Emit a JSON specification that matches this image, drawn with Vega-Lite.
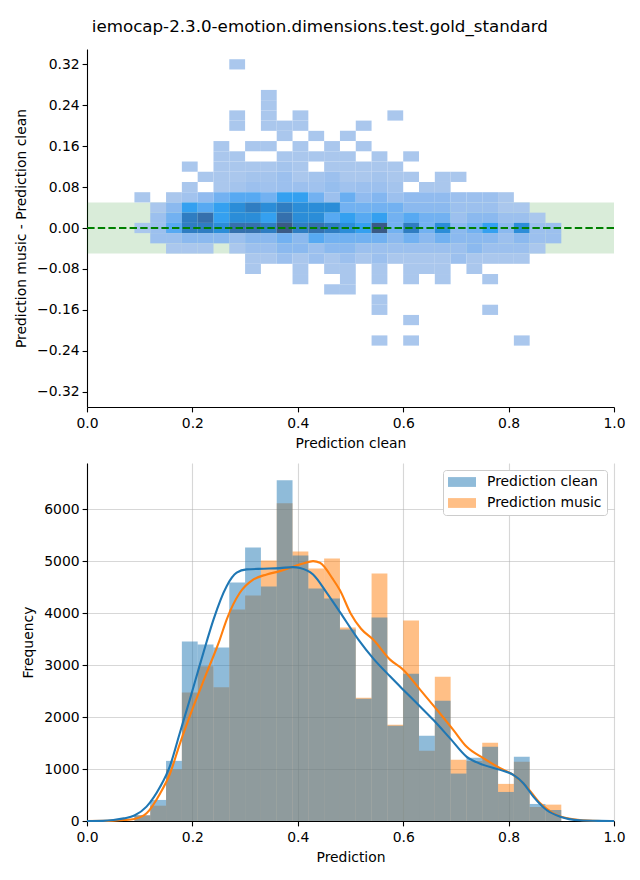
{
"$schema": "https://vega.github.io/schema/vega-lite/v6.json",
"background": "white",
"padding": {"left": 14, "top": 19, "right": 14, "bottom": 5},
"autosize": {"type": "pad"},
"spacing": 12,
"title": {"text": "iemocap-2.3.0-emotion.dimensions.test.gold_standard", "fontSize": 16.7, "font": "DejaVu Sans", "fontWeight": "normal", "color": "black", "anchor": "middle", "offset": 13},
"config": {
  "font": "DejaVu Sans",
  "view": {"stroke": null},
  "axis": {"labelFontSize": 13.9, "titleFontSize": 13.9, "labelColor": "black", "titleColor": "black", "titleFontWeight": "normal", "domainColor": "black", "domainWidth": 1.1, "tickColor": "black", "tickWidth": 1.1, "tickSize": 4.9, "labelPadding": 3, "titlePadding": 6, "gridColor": "#b0b0b0", "gridOpacity": 0.5, "gridWidth": 1.1, "zindex": 1, "labelFlush": false, "labelOverlap": false},
  "axisX": {"labelPadding": 5},
  "legend": {"orient": "top-right", "offset": 7, "labelFontSize": 13.9, "labelColor": "black", "symbolType": "M-2,-0.7L2,-0.7L2,0.7L-2,0.7Z", "symbolSize": 196, "symbolOpacity": 0.5, "symbolStrokeWidth": 0, "symbolOffset": 7, "labelOffset": 18, "fillColor": "white", "strokeColor": "#cccccc", "cornerRadius": 3, "padding": 5, "rowPadding": 7}
},
"datasets": {
  "cells": [
    {"x0":0.27,"x1":0.30,"y0":0.31,"y1":0.33,"n":30},
    {"x0":0.33,"x1":0.36,"y0":0.25,"y1":0.27,"n":30},
    {"x0":0.33,"x1":0.36,"y0":0.23,"y1":0.25,"n":30},
    {"x0":0.27,"x1":0.30,"y0":0.21,"y1":0.23,"n":30},
    {"x0":0.33,"x1":0.36,"y0":0.21,"y1":0.23,"n":30},
    {"x0":0.39,"x1":0.42,"y0":0.21,"y1":0.23,"n":30},
    {"x0":0.57,"x1":0.60,"y0":0.21,"y1":0.23,"n":30},
    {"x0":0.27,"x1":0.30,"y0":0.19,"y1":0.21,"n":30},
    {"x0":0.33,"x1":0.36,"y0":0.19,"y1":0.21,"n":30},
    {"x0":0.36,"x1":0.39,"y0":0.19,"y1":0.21,"n":30},
    {"x0":0.39,"x1":0.42,"y0":0.19,"y1":0.21,"n":30},
    {"x0":0.51,"x1":0.54,"y0":0.19,"y1":0.21,"n":30},
    {"x0":0.36,"x1":0.39,"y0":0.17,"y1":0.19,"n":30},
    {"x0":0.42,"x1":0.45,"y0":0.17,"y1":0.19,"n":30},
    {"x0":0.48,"x1":0.51,"y0":0.17,"y1":0.19,"n":30},
    {"x0":0.24,"x1":0.27,"y0":0.15,"y1":0.17,"n":30},
    {"x0":0.30,"x1":0.33,"y0":0.15,"y1":0.17,"n":30},
    {"x0":0.33,"x1":0.36,"y0":0.15,"y1":0.17,"n":30},
    {"x0":0.39,"x1":0.42,"y0":0.15,"y1":0.17,"n":30},
    {"x0":0.45,"x1":0.48,"y0":0.15,"y1":0.17,"n":30},
    {"x0":0.51,"x1":0.54,"y0":0.15,"y1":0.17,"n":30},
    {"x0":0.24,"x1":0.27,"y0":0.13,"y1":0.15,"n":30},
    {"x0":0.27,"x1":0.30,"y0":0.13,"y1":0.15,"n":30},
    {"x0":0.36,"x1":0.39,"y0":0.13,"y1":0.15,"n":30},
    {"x0":0.39,"x1":0.42,"y0":0.13,"y1":0.15,"n":30},
    {"x0":0.42,"x1":0.45,"y0":0.13,"y1":0.15,"n":30},
    {"x0":0.45,"x1":0.48,"y0":0.13,"y1":0.15,"n":30},
    {"x0":0.48,"x1":0.51,"y0":0.13,"y1":0.15,"n":30},
    {"x0":0.54,"x1":0.57,"y0":0.13,"y1":0.15,"n":30},
    {"x0":0.60,"x1":0.63,"y0":0.13,"y1":0.15,"n":30},
    {"x0":0.18,"x1":0.21,"y0":0.11,"y1":0.13,"n":30},
    {"x0":0.24,"x1":0.27,"y0":0.11,"y1":0.13,"n":30},
    {"x0":0.27,"x1":0.30,"y0":0.11,"y1":0.13,"n":30},
    {"x0":0.30,"x1":0.33,"y0":0.11,"y1":0.13,"n":30},
    {"x0":0.33,"x1":0.36,"y0":0.11,"y1":0.13,"n":30},
    {"x0":0.36,"x1":0.39,"y0":0.11,"y1":0.13,"n":80},
    {"x0":0.39,"x1":0.42,"y0":0.11,"y1":0.13,"n":30},
    {"x0":0.45,"x1":0.48,"y0":0.11,"y1":0.13,"n":30},
    {"x0":0.48,"x1":0.51,"y0":0.11,"y1":0.13,"n":30},
    {"x0":0.51,"x1":0.54,"y0":0.11,"y1":0.13,"n":30},
    {"x0":0.54,"x1":0.57,"y0":0.11,"y1":0.13,"n":30},
    {"x0":0.57,"x1":0.60,"y0":0.11,"y1":0.13,"n":30},
    {"x0":0.21,"x1":0.24,"y0":0.09,"y1":0.11,"n":30},
    {"x0":0.24,"x1":0.27,"y0":0.09,"y1":0.11,"n":30},
    {"x0":0.27,"x1":0.30,"y0":0.09,"y1":0.11,"n":30},
    {"x0":0.30,"x1":0.33,"y0":0.09,"y1":0.11,"n":80},
    {"x0":0.33,"x1":0.36,"y0":0.09,"y1":0.11,"n":80},
    {"x0":0.36,"x1":0.39,"y0":0.09,"y1":0.11,"n":150},
    {"x0":0.39,"x1":0.42,"y0":0.09,"y1":0.11,"n":30},
    {"x0":0.42,"x1":0.45,"y0":0.09,"y1":0.11,"n":80},
    {"x0":0.45,"x1":0.48,"y0":0.09,"y1":0.11,"n":150},
    {"x0":0.48,"x1":0.51,"y0":0.09,"y1":0.11,"n":30},
    {"x0":0.51,"x1":0.54,"y0":0.09,"y1":0.11,"n":30},
    {"x0":0.54,"x1":0.57,"y0":0.09,"y1":0.11,"n":80},
    {"x0":0.57,"x1":0.60,"y0":0.09,"y1":0.11,"n":30},
    {"x0":0.60,"x1":0.63,"y0":0.09,"y1":0.11,"n":30},
    {"x0":0.66,"x1":0.69,"y0":0.09,"y1":0.11,"n":30},
    {"x0":0.69,"x1":0.72,"y0":0.09,"y1":0.11,"n":30},
    {"x0":0.18,"x1":0.21,"y0":0.07,"y1":0.09,"n":30},
    {"x0":0.24,"x1":0.27,"y0":0.07,"y1":0.09,"n":30},
    {"x0":0.27,"x1":0.30,"y0":0.07,"y1":0.09,"n":80},
    {"x0":0.30,"x1":0.33,"y0":0.07,"y1":0.09,"n":150},
    {"x0":0.33,"x1":0.36,"y0":0.07,"y1":0.09,"n":120},
    {"x0":0.36,"x1":0.39,"y0":0.07,"y1":0.09,"n":150},
    {"x0":0.39,"x1":0.42,"y0":0.07,"y1":0.09,"n":150},
    {"x0":0.42,"x1":0.45,"y0":0.07,"y1":0.09,"n":120},
    {"x0":0.45,"x1":0.48,"y0":0.07,"y1":0.09,"n":200},
    {"x0":0.48,"x1":0.51,"y0":0.07,"y1":0.09,"n":120},
    {"x0":0.51,"x1":0.54,"y0":0.07,"y1":0.09,"n":150},
    {"x0":0.54,"x1":0.57,"y0":0.07,"y1":0.09,"n":150},
    {"x0":0.57,"x1":0.60,"y0":0.07,"y1":0.09,"n":80},
    {"x0":0.63,"x1":0.66,"y0":0.07,"y1":0.09,"n":30},
    {"x0":0.66,"x1":0.69,"y0":0.07,"y1":0.09,"n":30},
    {"x0":0.09,"x1":0.12,"y0":0.05,"y1":0.07,"n":30},
    {"x0":0.15,"x1":0.18,"y0":0.05,"y1":0.07,"n":30},
    {"x0":0.18,"x1":0.21,"y0":0.05,"y1":0.07,"n":100},
    {"x0":0.21,"x1":0.24,"y0":0.05,"y1":0.07,"n":250},
    {"x0":0.24,"x1":0.27,"y0":0.05,"y1":0.07,"n":450},
    {"x0":0.27,"x1":0.30,"y0":0.05,"y1":0.07,"n":600},
    {"x0":0.30,"x1":0.33,"y0":0.05,"y1":0.07,"n":600},
    {"x0":0.33,"x1":0.36,"y0":0.05,"y1":0.07,"n":450},
    {"x0":0.36,"x1":0.39,"y0":0.05,"y1":0.07,"n":750},
    {"x0":0.39,"x1":0.42,"y0":0.05,"y1":0.07,"n":750},
    {"x0":0.42,"x1":0.45,"y0":0.05,"y1":0.07,"n":450},
    {"x0":0.45,"x1":0.48,"y0":0.05,"y1":0.07,"n":150},
    {"x0":0.48,"x1":0.51,"y0":0.05,"y1":0.07,"n":500},
    {"x0":0.51,"x1":0.54,"y0":0.05,"y1":0.07,"n":250},
    {"x0":0.54,"x1":0.57,"y0":0.05,"y1":0.07,"n":350},
    {"x0":0.57,"x1":0.60,"y0":0.05,"y1":0.07,"n":150},
    {"x0":0.60,"x1":0.63,"y0":0.05,"y1":0.07,"n":250},
    {"x0":0.63,"x1":0.66,"y0":0.05,"y1":0.07,"n":250},
    {"x0":0.66,"x1":0.69,"y0":0.05,"y1":0.07,"n":250},
    {"x0":0.69,"x1":0.72,"y0":0.05,"y1":0.07,"n":150},
    {"x0":0.72,"x1":0.75,"y0":0.05,"y1":0.07,"n":150},
    {"x0":0.75,"x1":0.78,"y0":0.05,"y1":0.07,"n":150},
    {"x0":0.78,"x1":0.81,"y0":0.05,"y1":0.07,"n":30},
    {"x0":0.12,"x1":0.15,"y0":0.03,"y1":0.05,"n":30},
    {"x0":0.15,"x1":0.18,"y0":0.03,"y1":0.05,"n":300},
    {"x0":0.18,"x1":0.21,"y0":0.03,"y1":0.05,"n":750},
    {"x0":0.21,"x1":0.24,"y0":0.03,"y1":0.05,"n":600},
    {"x0":0.24,"x1":0.27,"y0":0.03,"y1":0.05,"n":750},
    {"x0":0.27,"x1":0.30,"y0":0.03,"y1":0.05,"n":950},
    {"x0":0.30,"x1":0.33,"y0":0.03,"y1":0.05,"n":1200},
    {"x0":0.33,"x1":0.36,"y0":0.03,"y1":0.05,"n":950},
    {"x0":0.36,"x1":0.39,"y0":0.03,"y1":0.05,"n":1200},
    {"x0":0.39,"x1":0.42,"y0":0.03,"y1":0.05,"n":950},
    {"x0":0.42,"x1":0.45,"y0":0.03,"y1":0.05,"n":950},
    {"x0":0.45,"x1":0.48,"y0":0.03,"y1":0.05,"n":950},
    {"x0":0.48,"x1":0.51,"y0":0.03,"y1":0.05,"n":450},
    {"x0":0.51,"x1":0.54,"y0":0.03,"y1":0.05,"n":450},
    {"x0":0.54,"x1":0.57,"y0":0.03,"y1":0.05,"n":450},
    {"x0":0.57,"x1":0.60,"y0":0.03,"y1":0.05,"n":450},
    {"x0":0.60,"x1":0.63,"y0":0.03,"y1":0.05,"n":300},
    {"x0":0.63,"x1":0.66,"y0":0.03,"y1":0.05,"n":300},
    {"x0":0.66,"x1":0.69,"y0":0.03,"y1":0.05,"n":300},
    {"x0":0.69,"x1":0.72,"y0":0.03,"y1":0.05,"n":150},
    {"x0":0.72,"x1":0.75,"y0":0.03,"y1":0.05,"n":150},
    {"x0":0.75,"x1":0.78,"y0":0.03,"y1":0.05,"n":150},
    {"x0":0.78,"x1":0.81,"y0":0.03,"y1":0.05,"n":30},
    {"x0":0.81,"x1":0.84,"y0":0.03,"y1":0.05,"n":30},
    {"x0":0.12,"x1":0.15,"y0":0.01,"y1":0.03,"n":150},
    {"x0":0.15,"x1":0.18,"y0":0.01,"y1":0.03,"n":450},
    {"x0":0.18,"x1":0.21,"y0":0.01,"y1":0.03,"n":1200},
    {"x0":0.21,"x1":0.24,"y0":0.01,"y1":0.03,"n":1450},
    {"x0":0.24,"x1":0.27,"y0":0.01,"y1":0.03,"n":750},
    {"x0":0.27,"x1":0.30,"y0":0.01,"y1":0.03,"n":950},
    {"x0":0.30,"x1":0.33,"y0":0.01,"y1":0.03,"n":950},
    {"x0":0.33,"x1":0.36,"y0":0.01,"y1":0.03,"n":750},
    {"x0":0.36,"x1":0.39,"y0":0.01,"y1":0.03,"n":1450},
    {"x0":0.39,"x1":0.42,"y0":0.01,"y1":0.03,"n":950},
    {"x0":0.42,"x1":0.45,"y0":0.01,"y1":0.03,"n":950},
    {"x0":0.45,"x1":0.48,"y0":0.01,"y1":0.03,"n":600},
    {"x0":0.48,"x1":0.51,"y0":0.01,"y1":0.03,"n":750},
    {"x0":0.51,"x1":0.54,"y0":0.01,"y1":0.03,"n":600},
    {"x0":0.54,"x1":0.57,"y0":0.01,"y1":0.03,"n":750},
    {"x0":0.57,"x1":0.60,"y0":0.01,"y1":0.03,"n":450},
    {"x0":0.60,"x1":0.63,"y0":0.01,"y1":0.03,"n":600},
    {"x0":0.63,"x1":0.66,"y0":0.01,"y1":0.03,"n":450},
    {"x0":0.66,"x1":0.69,"y0":0.01,"y1":0.03,"n":450},
    {"x0":0.69,"x1":0.72,"y0":0.01,"y1":0.03,"n":150},
    {"x0":0.72,"x1":0.75,"y0":0.01,"y1":0.03,"n":300},
    {"x0":0.75,"x1":0.78,"y0":0.01,"y1":0.03,"n":300},
    {"x0":0.78,"x1":0.81,"y0":0.01,"y1":0.03,"n":150},
    {"x0":0.81,"x1":0.84,"y0":0.01,"y1":0.03,"n":150},
    {"x0":0.84,"x1":0.87,"y0":0.01,"y1":0.03,"n":30},
    {"x0":0.09,"x1":0.12,"y0":-0.01,"y1":0.01,"n":30},
    {"x0":0.12,"x1":0.15,"y0":-0.01,"y1":0.01,"n":150},
    {"x0":0.15,"x1":0.18,"y0":-0.01,"y1":0.01,"n":600},
    {"x0":0.18,"x1":0.21,"y0":-0.01,"y1":0.01,"n":1200},
    {"x0":0.21,"x1":0.24,"y0":-0.01,"y1":0.01,"n":1200},
    {"x0":0.24,"x1":0.27,"y0":-0.01,"y1":0.01,"n":950},
    {"x0":0.27,"x1":0.30,"y0":-0.01,"y1":0.01,"n":1450},
    {"x0":0.30,"x1":0.33,"y0":-0.01,"y1":0.01,"n":1450},
    {"x0":0.33,"x1":0.36,"y0":-0.01,"y1":0.01,"n":1200},
    {"x0":0.36,"x1":0.39,"y0":-0.01,"y1":0.01,"n":1750},
    {"x0":0.39,"x1":0.42,"y0":-0.01,"y1":0.01,"n":1200},
    {"x0":0.42,"x1":0.45,"y0":-0.01,"y1":0.01,"n":1450},
    {"x0":0.45,"x1":0.48,"y0":-0.01,"y1":0.01,"n":1200},
    {"x0":0.48,"x1":0.51,"y0":-0.01,"y1":0.01,"n":950},
    {"x0":0.51,"x1":0.54,"y0":-0.01,"y1":0.01,"n":750},
    {"x0":0.54,"x1":0.57,"y0":-0.01,"y1":0.01,"n":1750},
    {"x0":0.57,"x1":0.60,"y0":-0.01,"y1":0.01,"n":450},
    {"x0":0.60,"x1":0.63,"y0":-0.01,"y1":0.01,"n":1200},
    {"x0":0.63,"x1":0.66,"y0":-0.01,"y1":0.01,"n":450},
    {"x0":0.66,"x1":0.69,"y0":-0.01,"y1":0.01,"n":950},
    {"x0":0.69,"x1":0.72,"y0":-0.01,"y1":0.01,"n":300},
    {"x0":0.72,"x1":0.75,"y0":-0.01,"y1":0.01,"n":450},
    {"x0":0.75,"x1":0.78,"y0":-0.01,"y1":0.01,"n":750},
    {"x0":0.78,"x1":0.81,"y0":-0.01,"y1":0.01,"n":300},
    {"x0":0.81,"x1":0.84,"y0":-0.01,"y1":0.01,"n":950},
    {"x0":0.84,"x1":0.87,"y0":-0.01,"y1":0.01,"n":150},
    {"x0":0.87,"x1":0.90,"y0":-0.01,"y1":0.01,"n":150},
    {"x0":0.12,"x1":0.15,"y0":-0.03,"y1":-0.01,"n":150},
    {"x0":0.15,"x1":0.18,"y0":-0.03,"y1":-0.01,"n":150},
    {"x0":0.18,"x1":0.21,"y0":-0.03,"y1":-0.01,"n":300},
    {"x0":0.21,"x1":0.24,"y0":-0.03,"y1":-0.01,"n":300},
    {"x0":0.24,"x1":0.27,"y0":-0.03,"y1":-0.01,"n":300},
    {"x0":0.27,"x1":0.30,"y0":-0.03,"y1":-0.01,"n":150},
    {"x0":0.30,"x1":0.33,"y0":-0.03,"y1":-0.01,"n":300},
    {"x0":0.33,"x1":0.36,"y0":-0.03,"y1":-0.01,"n":300},
    {"x0":0.36,"x1":0.39,"y0":-0.03,"y1":-0.01,"n":450},
    {"x0":0.39,"x1":0.42,"y0":-0.03,"y1":-0.01,"n":300},
    {"x0":0.42,"x1":0.45,"y0":-0.03,"y1":-0.01,"n":600},
    {"x0":0.45,"x1":0.48,"y0":-0.03,"y1":-0.01,"n":450},
    {"x0":0.48,"x1":0.51,"y0":-0.03,"y1":-0.01,"n":450},
    {"x0":0.51,"x1":0.54,"y0":-0.03,"y1":-0.01,"n":450},
    {"x0":0.54,"x1":0.57,"y0":-0.03,"y1":-0.01,"n":450},
    {"x0":0.57,"x1":0.60,"y0":-0.03,"y1":-0.01,"n":300},
    {"x0":0.60,"x1":0.63,"y0":-0.03,"y1":-0.01,"n":450},
    {"x0":0.63,"x1":0.66,"y0":-0.03,"y1":-0.01,"n":300},
    {"x0":0.66,"x1":0.69,"y0":-0.03,"y1":-0.01,"n":450},
    {"x0":0.69,"x1":0.72,"y0":-0.03,"y1":-0.01,"n":300},
    {"x0":0.72,"x1":0.75,"y0":-0.03,"y1":-0.01,"n":300},
    {"x0":0.75,"x1":0.78,"y0":-0.03,"y1":-0.01,"n":300},
    {"x0":0.78,"x1":0.81,"y0":-0.03,"y1":-0.01,"n":150},
    {"x0":0.81,"x1":0.84,"y0":-0.03,"y1":-0.01,"n":300},
    {"x0":0.84,"x1":0.87,"y0":-0.03,"y1":-0.01,"n":150},
    {"x0":0.87,"x1":0.90,"y0":-0.03,"y1":-0.01,"n":150},
    {"x0":0.15,"x1":0.18,"y0":-0.05,"y1":-0.03,"n":30},
    {"x0":0.18,"x1":0.21,"y0":-0.05,"y1":-0.03,"n":30},
    {"x0":0.21,"x1":0.24,"y0":-0.05,"y1":-0.03,"n":30},
    {"x0":0.27,"x1":0.30,"y0":-0.05,"y1":-0.03,"n":30},
    {"x0":0.30,"x1":0.33,"y0":-0.05,"y1":-0.03,"n":150},
    {"x0":0.33,"x1":0.36,"y0":-0.05,"y1":-0.03,"n":150},
    {"x0":0.36,"x1":0.39,"y0":-0.05,"y1":-0.03,"n":300},
    {"x0":0.39,"x1":0.42,"y0":-0.05,"y1":-0.03,"n":300},
    {"x0":0.42,"x1":0.45,"y0":-0.05,"y1":-0.03,"n":150},
    {"x0":0.45,"x1":0.48,"y0":-0.05,"y1":-0.03,"n":300},
    {"x0":0.48,"x1":0.51,"y0":-0.05,"y1":-0.03,"n":300},
    {"x0":0.51,"x1":0.54,"y0":-0.05,"y1":-0.03,"n":150},
    {"x0":0.54,"x1":0.57,"y0":-0.05,"y1":-0.03,"n":150},
    {"x0":0.57,"x1":0.60,"y0":-0.05,"y1":-0.03,"n":150},
    {"x0":0.60,"x1":0.63,"y0":-0.05,"y1":-0.03,"n":150},
    {"x0":0.63,"x1":0.66,"y0":-0.05,"y1":-0.03,"n":150},
    {"x0":0.66,"x1":0.69,"y0":-0.05,"y1":-0.03,"n":150},
    {"x0":0.69,"x1":0.72,"y0":-0.05,"y1":-0.03,"n":150},
    {"x0":0.72,"x1":0.75,"y0":-0.05,"y1":-0.03,"n":300},
    {"x0":0.75,"x1":0.78,"y0":-0.05,"y1":-0.03,"n":150},
    {"x0":0.78,"x1":0.81,"y0":-0.05,"y1":-0.03,"n":150},
    {"x0":0.81,"x1":0.84,"y0":-0.05,"y1":-0.03,"n":150},
    {"x0":0.84,"x1":0.87,"y0":-0.05,"y1":-0.03,"n":30},
    {"x0":0.30,"x1":0.33,"y0":-0.07,"y1":-0.05,"n":30},
    {"x0":0.33,"x1":0.36,"y0":-0.07,"y1":-0.05,"n":30},
    {"x0":0.36,"x1":0.39,"y0":-0.07,"y1":-0.05,"n":150},
    {"x0":0.39,"x1":0.42,"y0":-0.07,"y1":-0.05,"n":30},
    {"x0":0.42,"x1":0.45,"y0":-0.07,"y1":-0.05,"n":150},
    {"x0":0.45,"x1":0.48,"y0":-0.07,"y1":-0.05,"n":30},
    {"x0":0.48,"x1":0.51,"y0":-0.07,"y1":-0.05,"n":150},
    {"x0":0.51,"x1":0.54,"y0":-0.07,"y1":-0.05,"n":30},
    {"x0":0.54,"x1":0.57,"y0":-0.07,"y1":-0.05,"n":150},
    {"x0":0.57,"x1":0.60,"y0":-0.07,"y1":-0.05,"n":30},
    {"x0":0.60,"x1":0.63,"y0":-0.07,"y1":-0.05,"n":30},
    {"x0":0.63,"x1":0.66,"y0":-0.07,"y1":-0.05,"n":30},
    {"x0":0.66,"x1":0.69,"y0":-0.07,"y1":-0.05,"n":30},
    {"x0":0.69,"x1":0.72,"y0":-0.07,"y1":-0.05,"n":150},
    {"x0":0.72,"x1":0.75,"y0":-0.07,"y1":-0.05,"n":30},
    {"x0":0.75,"x1":0.78,"y0":-0.07,"y1":-0.05,"n":30},
    {"x0":0.78,"x1":0.81,"y0":-0.07,"y1":-0.05,"n":30},
    {"x0":0.81,"x1":0.84,"y0":-0.07,"y1":-0.05,"n":30},
    {"x0":0.30,"x1":0.33,"y0":-0.09,"y1":-0.07,"n":30},
    {"x0":0.39,"x1":0.42,"y0":-0.09,"y1":-0.07,"n":30},
    {"x0":0.45,"x1":0.48,"y0":-0.09,"y1":-0.07,"n":30},
    {"x0":0.48,"x1":0.51,"y0":-0.09,"y1":-0.07,"n":30},
    {"x0":0.54,"x1":0.57,"y0":-0.09,"y1":-0.07,"n":30},
    {"x0":0.60,"x1":0.63,"y0":-0.09,"y1":-0.07,"n":30},
    {"x0":0.63,"x1":0.66,"y0":-0.09,"y1":-0.07,"n":30},
    {"x0":0.66,"x1":0.69,"y0":-0.09,"y1":-0.07,"n":30},
    {"x0":0.72,"x1":0.75,"y0":-0.09,"y1":-0.07,"n":30},
    {"x0":0.39,"x1":0.42,"y0":-0.11,"y1":-0.09,"n":30},
    {"x0":0.48,"x1":0.51,"y0":-0.11,"y1":-0.09,"n":30},
    {"x0":0.54,"x1":0.57,"y0":-0.11,"y1":-0.09,"n":30},
    {"x0":0.60,"x1":0.63,"y0":-0.11,"y1":-0.09,"n":30},
    {"x0":0.66,"x1":0.69,"y0":-0.11,"y1":-0.09,"n":30},
    {"x0":0.75,"x1":0.78,"y0":-0.11,"y1":-0.09,"n":30},
    {"x0":0.45,"x1":0.48,"y0":-0.13,"y1":-0.11,"n":30},
    {"x0":0.48,"x1":0.51,"y0":-0.13,"y1":-0.11,"n":30},
    {"x0":0.54,"x1":0.57,"y0":-0.15,"y1":-0.13,"n":30},
    {"x0":0.54,"x1":0.57,"y0":-0.17,"y1":-0.15,"n":30},
    {"x0":0.75,"x1":0.78,"y0":-0.17,"y1":-0.15,"n":30},
    {"x0":0.60,"x1":0.63,"y0":-0.19,"y1":-0.17,"n":30},
    {"x0":0.54,"x1":0.57,"y0":-0.23,"y1":-0.21,"n":30},
    {"x0":0.60,"x1":0.63,"y0":-0.23,"y1":-0.21,"n":30},
    {"x0":0.81,"x1":0.84,"y0":-0.23,"y1":-0.21,"n":30}
  ],
  "hist": [
    {"series":"Prediction music","x0":0.09,"x1":0.12,"count":110},
    {"series":"Prediction music","x0":0.12,"x1":0.15,"count":295},
    {"series":"Prediction music","x0":0.15,"x1":0.18,"count":995},
    {"series":"Prediction music","x0":0.18,"x1":0.21,"count":2475},
    {"series":"Prediction music","x0":0.21,"x1":0.24,"count":2977},
    {"series":"Prediction music","x0":0.24,"x1":0.27,"count":2572},
    {"series":"Prediction music","x0":0.27,"x1":0.30,"count":4070},
    {"series":"Prediction music","x0":0.30,"x1":0.33,"count":4340},
    {"series":"Prediction music","x0":0.33,"x1":0.36,"count":5015},
    {"series":"Prediction music","x0":0.36,"x1":0.39,"count":6115},
    {"series":"Prediction music","x0":0.39,"x1":0.42,"count":5189},
    {"series":"Prediction music","x0":0.42,"x1":0.45,"count":4861},
    {"series":"Prediction music","x0":0.45,"x1":0.48,"count":5054},
    {"series":"Prediction music","x0":0.48,"x1":0.51,"count":3723},
    {"series":"Prediction music","x0":0.51,"x1":0.54,"count":2373},
    {"series":"Prediction music","x0":0.54,"x1":0.57,"count":4765},
    {"series":"Prediction music","x0":0.57,"x1":0.60,"count":1852},
    {"series":"Prediction music","x0":0.60,"x1":0.63,"count":3858},
    {"series":"Prediction music","x0":0.63,"x1":0.66,"count":1350},
    {"series":"Prediction music","x0":0.66,"x1":0.69,"count":2778},
    {"series":"Prediction music","x0":0.69,"x1":0.72,"count":1177},
    {"series":"Prediction music","x0":0.72,"x1":0.75,"count":1157},
    {"series":"Prediction music","x0":0.75,"x1":0.78,"count":1505},
    {"series":"Prediction music","x0":0.78,"x1":0.81,"count":714},
    {"series":"Prediction music","x0":0.81,"x1":0.84,"count":1138},
    {"series":"Prediction music","x0":0.84,"x1":0.87,"count":270},
    {"series":"Prediction music","x0":0.87,"x1":0.90,"count":315},
    {"series":"Prediction clean","x0":0.09,"x1":0.12,"count":110},
    {"series":"Prediction clean","x0":0.12,"x1":0.15,"count":405},
    {"series":"Prediction clean","x0":0.15,"x1":0.18,"count":1157},
    {"series":"Prediction clean","x0":0.18,"x1":0.21,"count":3453},
    {"series":"Prediction clean","x0":0.21,"x1":0.24,"count":3395},
    {"series":"Prediction clean","x0":0.24,"x1":0.27,"count":3337},
    {"series":"Prediction clean","x0":0.27,"x1":0.30,"count":4591},
    {"series":"Prediction clean","x0":0.30,"x1":0.33,"count":5266},
    {"series":"Prediction clean","x0":0.33,"x1":0.36,"count":4514},
    {"series":"Prediction clean","x0":0.36,"x1":0.39,"count":6559},
    {"series":"Prediction clean","x0":0.39,"x1":0.42,"count":5112},
    {"series":"Prediction clean","x0":0.42,"x1":0.45,"count":4475},
    {"series":"Prediction clean","x0":0.45,"x1":0.48,"count":4282},
    {"series":"Prediction clean","x0":0.48,"x1":0.51,"count":3684},
    {"series":"Prediction clean","x0":0.51,"x1":0.54,"count":2353},
    {"series":"Prediction clean","x0":0.54,"x1":0.57,"count":3916},
    {"series":"Prediction clean","x0":0.57,"x1":0.60,"count":1835},
    {"series":"Prediction clean","x0":0.60,"x1":0.63,"count":2835},
    {"series":"Prediction clean","x0":0.63,"x1":0.66,"count":1640},
    {"series":"Prediction clean","x0":0.66,"x1":0.69,"count":2315},
    {"series":"Prediction clean","x0":0.69,"x1":0.72,"count":913},
    {"series":"Prediction clean","x0":0.72,"x1":0.75,"count":1215},
    {"series":"Prediction clean","x0":0.75,"x1":0.78,"count":1427},
    {"series":"Prediction clean","x0":0.78,"x1":0.81,"count":559},
    {"series":"Prediction clean","x0":0.81,"x1":0.84,"count":1235},
    {"series":"Prediction clean","x0":0.84,"x1":0.87,"count":328},
    {"series":"Prediction clean","x0":0.87,"x1":0.90,"count":212}
  ],
  "kde_clean": [
    {"x":0,"y":0},{"x":0.03,"y":3},{"x":0.05,"y":19},{"x":0.07,"y":50},{"x":0.09,"y":105},{"x":0.113,"y":276},{"x":0.139,"y":662},{"x":0.157,"y":1048},{"x":0.176,"y":1690},{"x":0.195,"y":2334},{"x":0.214,"y":3000},{"x":0.227,"y":3450},{"x":0.24,"y":3877},{"x":0.265,"y":4520},{"x":0.284,"y":4778},{"x":0.303,"y":4842},{"x":0.335,"y":4855},{"x":0.366,"y":4867},{"x":0.391,"y":4886},{"x":0.404,"y":4870},{"x":0.429,"y":4745},{"x":0.455,"y":4392},{"x":0.48,"y":4020},{"x":0.515,"y":3492},{"x":0.543,"y":3130},{"x":0.575,"y":2784},{"x":0.6,"y":2527},{"x":0.632,"y":2205},{"x":0.657,"y":1948},{"x":0.689,"y":1590},{"x":0.72,"y":1240},{"x":0.752,"y":1080},{"x":0.784,"y":984},{"x":0.809,"y":887},{"x":0.828,"y":727},{"x":0.847,"y":469},{"x":0.872,"y":212},{"x":0.898,"y":83},{"x":0.935,"y":13},{"x":0.97,"y":2},{"x":1.0,"y":0}
  ],
  "kde_music": [
    {"x":0,"y":0},{"x":0.05,"y":8},{"x":0.07,"y":18},{"x":0.09,"y":40},{"x":0.113,"y":148},{"x":0.139,"y":534},{"x":0.157,"y":900},{"x":0.176,"y":1480},{"x":0.202,"y":2205},{"x":0.227,"y":2849},{"x":0.252,"y":3492},{"x":0.265,"y":3877},{"x":0.29,"y":4392},{"x":0.316,"y":4649},{"x":0.341,"y":4745},{"x":0.366,"y":4809},{"x":0.391,"y":4893},{"x":0.41,"y":4957},{"x":0.429,"y":5002},{"x":0.442,"y":4970},{"x":0.467,"y":4649},{"x":0.48,"y":4440},{"x":0.5,"y":4000},{"x":0.52,"y":3700},{"x":0.543,"y":3492},{"x":0.575,"y":3106},{"x":0.6,"y":2913},{"x":0.632,"y":2527},{"x":0.664,"y":2141},{"x":0.695,"y":1755},{"x":0.72,"y":1433},{"x":0.752,"y":1209},{"x":0.784,"y":1016},{"x":0.809,"y":887},{"x":0.834,"y":662},{"x":0.86,"y":341},{"x":0.885,"y":148},{"x":0.923,"y":33},{"x":0.96,"y":5},{"x":1.0,"y":0}
  ]
},
"vconcat": [
  {
    "width": 527, "height": 358,
    "layer": [
      {
        "data": {"values": [{}]},
        "mark": {"type": "rect", "color": "#008000", "opacity": 0.15},
        "encoding": {
          "x": {"datum": 0, "type": "quantitative", "scale": {"domain": [0, 1], "nice": false, "zero": false}, "title": "Prediction clean", "axis": {"values": [0, 0.2, 0.4, 0.6, 0.8, 1.0], "format": ".1f"}},
          "x2": {"datum": 1},
          "y": {"datum": -0.05, "type": "quantitative", "scale": {"domain": [-0.35, 0.35], "nice": false, "zero": false}, "title": "Prediction music - Prediction clean", "axis": {"values": [-0.32, -0.24, -0.16, -0.08, 0, 0.08, 0.16, 0.24, 0.32], "format": ".2f", "titlePadding": 8}},
          "y2": {"datum": 0.05}
        }
      },
      {
        "data": {"name": "cells"},
        "mark": {"type": "rect", "strokeWidth": 0},
        "encoding": {
          "x": {"field": "x0", "type": "quantitative", "title": "Prediction clean", "axis": {"values": [0, 0.2, 0.4, 0.6, 0.8, 1.0], "format": ".1f"}},
          "x2": {"field": "x1"},
          "y": {"field": "y0", "type": "quantitative", "title": "Prediction music - Prediction clean", "axis": {"values": [-0.32, -0.24, -0.16, -0.08, 0, 0.08, 0.16, 0.24, 0.32], "format": ".2f", "titlePadding": 8}},
          "y2": {"field": "y1"},
          "color": {"field": "n", "type": "quantitative", "legend": null, "scale": {"type": "linear", "domain": [30, 150, 300, 450, 600, 750, 950, 1200, 1450, 1750], "range": ["#aac7ed", "#9cc0ee", "#8bb9ef", "#72b1f1", "#57a9f2", "#34a0f0", "#2b8dd8", "#2f7dc2", "#3570ad", "#3a5a85"], "interpolate": "rgb"}}
        }
      },
      {
        "data": {"values": [{}]},
        "mark": {"type": "rule", "color": "#008000", "strokeWidth": 2.1, "strokeDash": [7.4, 3.2]},
        "encoding": {
          "y": {"datum": 0, "type": "quantitative", "title": "Prediction music - Prediction clean", "axis": {"values": [-0.32, -0.24, -0.16, -0.08, 0, 0.08, 0.16, 0.24, 0.32], "format": ".2f", "titlePadding": 8}}
        }
      }
    ]
  },
  {
    "width": 527, "height": 358,
    "layer": [
      {
        "data": {"name": "hist"},
        "transform": [{"filter": "datum.series == 'Prediction music'"}],
        "mark": {"type": "rect", "opacity": 0.5, "strokeWidth": 0},
        "encoding": {
          "x": {"field": "x0", "type": "quantitative", "scale": {"domain": [0, 1], "nice": false, "zero": false}, "title": "Prediction", "axis": {"values": [0, 0.2, 0.4, 0.6, 0.8, 1.0], "format": ".1f"}},
          "x2": {"field": "x1"},
          "y": {"field": "count", "type": "quantitative", "scale": {"domain": [0, 6890], "nice": false}, "title": "Frequency", "axis": {"values": [0, 1000, 2000, 3000, 4000, 5000, 6000], "format": "d", "titlePadding": 8}},
          "y2": {"datum": 0},
          "color": {"field": "series", "type": "nominal", "scale": {"domain": ["Prediction clean", "Prediction music"], "range": ["#1f77b4", "#ff7f0e"]}, "legend": {"title": null}}
        }
      },
      {
        "data": {"name": "hist"},
        "transform": [{"filter": "datum.series == 'Prediction clean'"}],
        "mark": {"type": "rect", "opacity": 0.5, "strokeWidth": 0},
        "encoding": {
          "x": {"field": "x0", "type": "quantitative", "title": "Prediction", "axis": {"values": [0, 0.2, 0.4, 0.6, 0.8, 1.0], "format": ".1f"}},
          "x2": {"field": "x1"},
          "y": {"field": "count", "type": "quantitative", "title": "Frequency", "axis": {"values": [0, 1000, 2000, 3000, 4000, 5000, 6000], "format": "d", "titlePadding": 8}},
          "y2": {"datum": 0},
          "color": {"field": "series", "type": "nominal", "legend": {"title": null}}
        }
      },
      {
        "data": {"name": "kde_music"},
        "mark": {"type": "line", "color": "#ff7f0e", "strokeWidth": 2.1, "interpolate": "monotone"},
        "encoding": {
          "x": {"field": "x", "type": "quantitative", "title": "Prediction", "axis": {"values": [0, 0.2, 0.4, 0.6, 0.8, 1.0], "format": ".1f"}},
          "y": {"field": "y", "type": "quantitative", "title": "Frequency", "axis": {"values": [0, 1000, 2000, 3000, 4000, 5000, 6000], "format": "d", "titlePadding": 8}}
        }
      },
      {
        "data": {"name": "kde_clean"},
        "mark": {"type": "line", "color": "#1f77b4", "strokeWidth": 2.1, "interpolate": "monotone"},
        "encoding": {
          "x": {"field": "x", "type": "quantitative", "title": "Prediction", "axis": {"values": [0, 0.2, 0.4, 0.6, 0.8, 1.0], "format": ".1f"}},
          "y": {"field": "y", "type": "quantitative", "title": "Frequency", "axis": {"values": [0, 1000, 2000, 3000, 4000, 5000, 6000], "format": "d", "titlePadding": 8}}
        }
      }
    ]
  }
]
}
